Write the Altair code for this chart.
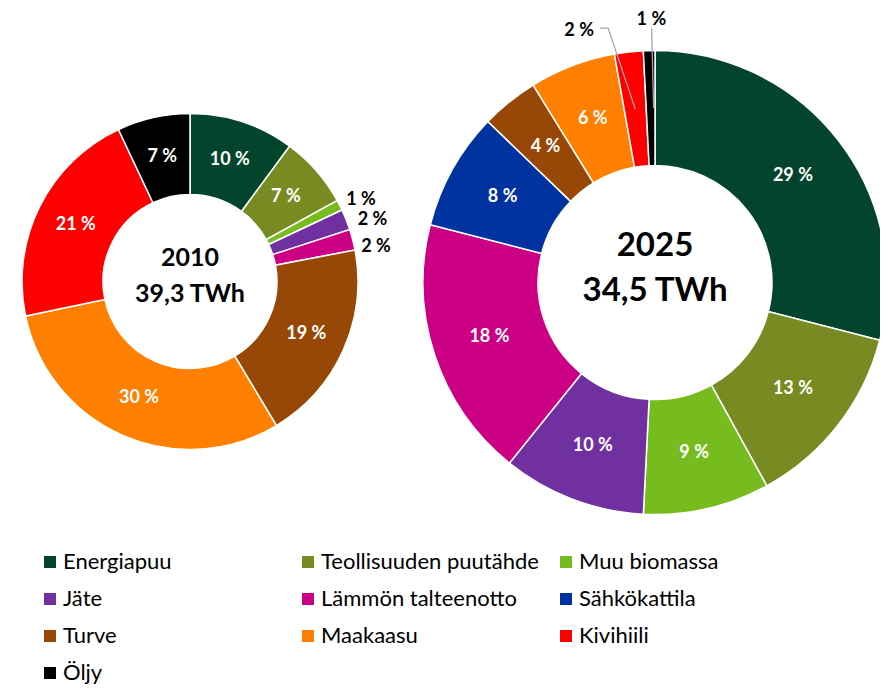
import math
import altair as alt
import pandas as pd

categories = ["Energiapuu", "Teollisuuden puutähde", "Muu biomassa", "Jäte",
              "Lämmön talteenotto", "Sähkökattila", "Turve", "Maakaasu",
              "Kivihiili", "Öljy"]
colors = ["#03452C", "#778B22", "#77BC1F", "#7030A0", "#CC0084",
          "#0033A0", "#974806", "#FF8000", "#FF0000", "#000000"]
share_2010 = [10.1, 6.9, 1.0, 2.0, 2.0, 0.0, 19.4, 30.3, 21.3, 7.0]
labels_2010 = ["10 %", "7 %", "1 %", "2 %", "2 %", "", "19 %", "30 %", "21 %", "7 %"]
share_2025 = [29.0, 13.0, 8.8, 10.0, 18.2, 8.2, 4.0, 6.0, 2.0, 0.8]
labels_2025 = ["29 %", "13 %", "9 %", "10 %", "18 %", "8 %", "4 %", "6 %", "2 %", "1 %"]
title_2010 = ["2010", "39,3 TWh"]
title_2025 = ["2025", "34,5 TWh"]

FONT = "Lato"
# layout (chart coordinates)
C1 = (182, 273.5)
C2 = (647, 274.5)
R1_OUT, R1_IN = 168, 87
R2_OUT, R2_IN = 232, 117
SMALL = 3


def make_df(shares, labels):
    rows = []
    for i, (c, v, l) in enumerate(zip(categories, shares, labels)):
        if v <= 0:
            continue
        rows.append({"category": c, "value": v, "idx": i, "label": l,
                     "inner": l if v >= SMALL else ""})
    return pd.DataFrame(rows)


df10 = make_df(share_2010, labels_2010)
df25 = make_df(share_2025, labels_2025)

color_scale = alt.Scale(domain=categories, range=colors)


def donut(df, c, r_out, r_in, legend):
    base = alt.Chart(df).encode(
        theta=alt.Theta("value:Q", stack=True),
        order=alt.Order("idx:Q"),
        x=alt.value(c[0]), y=alt.value(c[1]),
    )
    arc = base.mark_arc(radius=r_out, radius2=r_in, stroke="white", strokeWidth=1.5).encode(
        color=alt.Color("category:N", scale=color_scale, legend=legend, sort=categories)
    )
    inner = base.mark_text(radius=(r_out + r_in) / 2, font=FONT, fontWeight="bold",
                           fontSize=18, color="white").encode(
        text="inner:N", detail="category:N")
    return arc, inner, base


legend = alt.Legend(orient="none", legendX=31, legendY=543, columns=3, title=None,
                    direction="horizontal",
                    symbolType="square", symbolSize=144, symbolStrokeWidth=0,
                    labelFont=FONT, labelFontSize=22, labelColor="#000000",
                    labelOffset=2, labelLimit=400, rowPadding=15, columnPadding=16,
                    gridAlign="all", padding=0)

arc10, in10, base10 = donut(df10, C1, R1_OUT, R1_IN, legend)
arc25, in25, base25 = donut(df25, C2, R2_OUT, R2_IN, None)

# 2010 small-slice labels outside the ring, one layer each (own nudge)
nudges_2010 = {2: (0, 6), 3: (4, 9), 4: (0, 13)}
out10_layers = []
for i, (dx, dy) in nudges_2010.items():
    out10_layers.append(
        base10.transform_calculate(
            out=f"datum.idx == {i} ? datum.label : ''"
        ).mark_text(radius=192, font=FONT, fontWeight="bold", fontSize=18,
                    color="black", dx=dx, dy=dy).encode(text="out:N", detail="category:N")
    )


# 2025 call-outs computed from the cumulative shares
def polar(c, r, frac):
    a = 2 * math.pi * frac
    return c[0] + r * math.sin(a), c[1] - r * math.cos(a)


cum = 0.0
mids = {}
for c, v in zip(categories, share_2025):
    mids[c] = (cum + v / 2) / 100.0
    cum += v

line_rows = []
text_rows = []
# Kivihiili
m = mids["Kivihiili"]
p1 = polar(C2, (R2_OUT + R2_IN) / 2, m)
p2 = polar(C2, 256, m)
p2 = (p2[0] - 18, p2[1])
p3 = (p2[0] - 8, p2[1])
for k, p in enumerate([p1, p2, p3]):
    line_rows.append({"key": "kivi", "o": k, "px": p[0], "py": p[1]})
text_rows.append({"px": p3[0] - 21, "py": p3[1] + 3, "t": labels_2025[8]})
# Öljy
m = mids["Öljy"]
q1 = polar(C2, (R2_OUT + R2_IN) / 2, m)
q2 = polar(C2, 254, m)
for k, p in enumerate([q1, q2]):
    line_rows.append({"key": "oljy", "o": k, "px": p[0] + 3, "py": p[1]})
q3 = polar(C2, 263, m)
text_rows.append({"px": q3[0] + 3, "py": q3[1], "t": labels_2025[9]})

lines = alt.Chart(pd.DataFrame(line_rows)).mark_line(color="#A6A6A6", strokeWidth=1.3).encode(
    x=alt.X("px:Q", scale=None, axis=None),
    y=alt.Y("py:Q", scale=None, axis=None),
    detail="key:N", order="o:Q")
callouts = alt.Chart(pd.DataFrame(text_rows)).mark_text(
    font=FONT, fontWeight="bold", fontSize=18, color="black").encode(
    x=alt.X("px:Q", scale=None, axis=None),
    y=alt.Y("py:Q", scale=None, axis=None),
    text="t:N")


def center_text(t, c, dy, size):
    return alt.Chart(pd.DataFrame({"t": [t]})).mark_text(
        font=FONT, fontWeight="bold", fontSize=size, color="black").encode(
        text="t:N", x=alt.value(c[0]), y=alt.value(c[1] + dy))


c10a = center_text(title_2010[0], C1, -24, 25)
c10b = center_text(title_2010[1], C1, 12, 25)
c25a = center_text(title_2025[0], C2, -37, 33)
c25b = center_text(title_2025[1], C2, 8, 33)

chart = alt.layer(
    arc10, arc25, in10, in25, *out10_layers, lines, callouts, c10a, c10b, c25a, c25b
).resolve_scale(theta="independent").properties(
    width=872, height=677, padding=0, autosize="none", background="white"
).configure_view(stroke=None)

chart.save("out.html", embed_options={"renderer": "svg", "actions": False})
